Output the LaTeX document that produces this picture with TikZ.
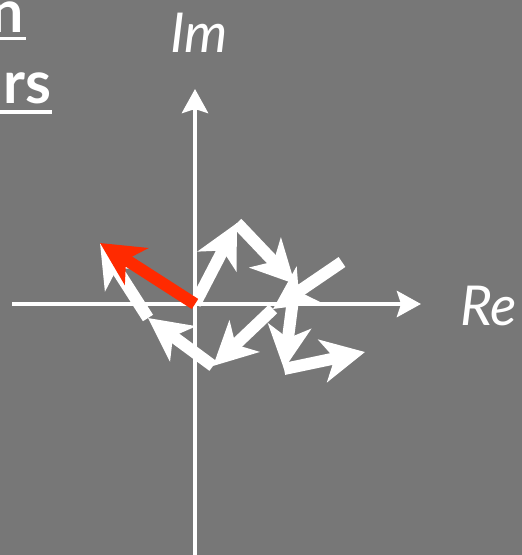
\documentclass[tikz,border=0pt]{standalone}
\usepackage{fontspec}
\setmainfont{Lato}
\usetikzlibrary{arrows.meta}
\definecolor{bg}{RGB}{119,119,119}
\definecolor{phred}{RGB}{255,42,0}
\begin{document}
\begin{tikzpicture}[x=1pt,y=-1pt,
  axis/.style={draw=white, line width=4.5pt, -{Stealth[length=24pt,width=26pt,inset=4pt]}},
  phasor/.style={draw=white, line width=12pt, -{Stealth[length=43pt,width=43pt,inset=12pt]}},
  resultant/.style={phasor, draw=phred},
  axislabel/.style={text=white, inner sep=0pt, font=\fontsize{55}{58}\selectfont\itshape},
  titletext/.style={text=white, inner sep=0pt, font=\fontsize{59}{62}\selectfont\bfseries},
  uline/.style={draw=white, line width=3.5pt}]
\fill[bg] (0,0) rectangle (522,555);
\useasboundingbox (0,0) rectangle (522,555);
% title fragments
\node[titletext, anchor=base east] (t1) at (24,32) {n};
\node[titletext, anchor=base east] (t2) at (52,103) {rs};
\coordinate (u1a) at (0,38.5); \coordinate (u1b) at (26,38.5);
\coordinate (u2a) at (0,112); \coordinate (u2b) at (52,112);
\draw[uline] (u1a) -- (u1b);
\draw[uline] (u2a) -- (u2b);
% axes
\coordinate (xl) at (12,304);
\coordinate (xr) at (421,304);
\coordinate (yb) at (195,556);
\coordinate (yt) at (195,89);
\draw[axis] (xl) -- (xr);
\draw[axis] (yb) -- (yt);
\node[axislabel, anchor=base west] (im) at (170,52) {Im};
\node[axislabel, anchor=base west] (re) at (460,325) {Re};
% phasor points
\coordinate (O) at (195,304);
\coordinate (a1) at (237,223);
\coordinate (b1) at (295,284);
\coordinate (g1) at (284,369);
\coordinate (h1) at (365,352);
\coordinate (c0) at (342,262);
\coordinate (c1) at (273,309);
\coordinate (d1) at (213,366);
\coordinate (e1) at (148,318);
\coordinate (f1) at (100,243);
% phasors
\draw[phasor] (O) -- (a1);
\draw[phasor] (a1) -- (b1);
\draw[phasor] (b1) -- (g1);
\draw[phasor] (g1) -- (h1);
\draw[phasor] (c0) -- (c1);
\draw[phasor] (c1) -- (d1);
\draw[phasor] (d1) -- (e1);
\draw[phasor] (e1) -- (f1);
\draw[resultant] (O) -- (f1);
\end{tikzpicture}
\end{document}
